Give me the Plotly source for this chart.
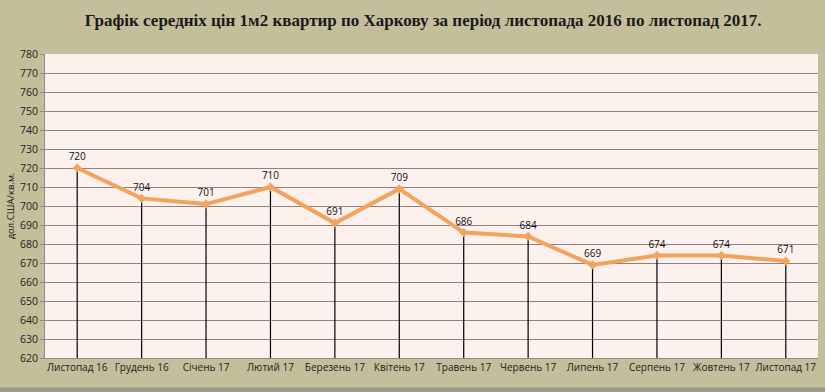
import plotly.graph_objects as go

months = ["Листопад 16", "Грудень 16", "Січень 17", "Лютий 17", "Березень 17", "Квітень 17",
          "Травень 17", "Червень 17", "Липень 17", "Серпень 17", "Жовтень 17", "Листопад 17"]
prices = [720, 704, 701, 710, 691, 709, 686, 684, 669, 674, 674, 671]
y_min, y_max, y_step = 620, 780, 10

title = "Графік середніх цін 1м2 квартир по Харкову за період листопада 2016 по листопад 2017."
y_title = "дол.США/кв.м."

fig = go.Figure()

# drop lines from points to axis
fig.add_trace(go.Scatter(
    x=months, y=prices, mode="markers",
    marker=dict(size=0.1, color="rgba(0,0,0,0)"),
    error_y=dict(type="data", symmetric=False, array=[0] * len(prices),
                 arrayminus=[p - y_min for p in prices], color="black", thickness=1.2, width=0),
    hoverinfo="skip", showlegend=False,
))

fig.add_trace(go.Scatter(
    x=months, y=prices, mode="lines+markers+text",
    line=dict(color="#F2A35E", width=4),
    marker=dict(size=7, color="#F2A35E", symbol="diamond"),
    text=[str(p) for p in prices], textposition="top center",
    textfont=dict(family="Open Sans, DejaVu Sans", size=10, color="#111111"),
    showlegend=False,
))

fig.update_layout(
    width=825, height=392,
    margin=dict(l=45, r=7, t=54, b=34, autoexpand=False),
    paper_bgcolor="#C5BE9A",
    plot_bgcolor="#FDF1EE",
    title=dict(text="<b>" + title + "</b>", x=0.513, xanchor="center", y=0.948, yanchor="middle",
               font=dict(family="Liberation Serif, Times New Roman", size=17, color="#1a1a1a")),
    xaxis=dict(type="category", range=[-0.5, len(months) - 0.5], showgrid=False, automargin=False,
               showline=True, linecolor="#8c8c8c", ticks="",
               tickfont=dict(family="Open Sans, DejaVu Sans", size=10, color="#222222"),
               fixedrange=True),
    yaxis=dict(range=[y_min, y_max], dtick=y_step, tick0=y_min, showgrid=True, automargin=False,
               gridcolor="#8E8282", gridwidth=1, showline=True, linecolor="#8c8c8c",
               ticks="outside", ticklen=4, tickcolor="#8c8c8c",
               tickfont=dict(family="Open Sans, DejaVu Sans", size=10.5, color="#222222"),
               title=dict(text=y_title, font=dict(family="Open Sans, DejaVu Sans", size=9.5, color="#111111"), standoff=3),
               zeroline=False, fixedrange=True),
    shapes=[dict(type="rect", xref="paper", yref="paper", x0=-0.07, x1=1.02, y0=-0.097, y1=-0.12,
                 fillcolor="#9A9886", line=dict(width=0), layer="above")],
)

fig.write_html("out.html", config={"displayModeBar": False},
               post_script="document.body.style.margin='0';document.body.style.overflow='hidden';")
